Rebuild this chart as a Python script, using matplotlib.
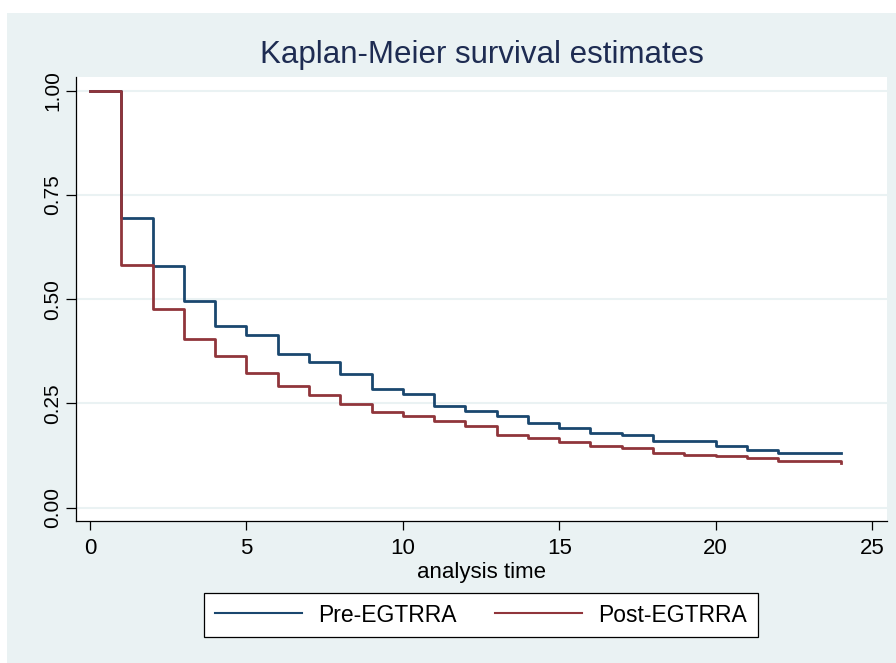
import matplotlib.pyplot as plt
from matplotlib.patches import Rectangle

# Kaplan-Meier step values, one per interval [t, t+1), last entry = value at t=24
times = list(range(0, 25))
pre_egtrra = [1.0, 0.696, 0.581, 0.496, 0.436, 0.413, 0.369, 0.350, 0.320, 0.284,
              0.272, 0.243, 0.232, 0.220, 0.204, 0.190, 0.180, 0.174, 0.160, 0.160,
              0.148, 0.139, 0.131, 0.131, 0.131]
post_egtrra = [1.0, 0.583, 0.476, 0.405, 0.364, 0.324, 0.292, 0.271, 0.249, 0.230,
               0.220, 0.208, 0.195, 0.174, 0.168, 0.157, 0.148, 0.143, 0.131, 0.126,
               0.124, 0.119, 0.112, 0.112, 0.108]

x_ticks = [0, 5, 10, 15, 20, 25]
y_ticks = [0.0, 0.25, 0.5, 0.75, 1.0]
y_labels = ["0.00", "0.25", "0.50", "0.75", "1.00"]

BG = "#eaf2f3"
BLUE = "#1a476f"
RED = "#90353b"
TITLE = "#1e2c52"

plt.rcParams["font.family"] = ["Liberation Sans", "DejaVu Sans"]

fig = plt.figure(figsize=(8.96, 6.63), dpi=100)
fig.patch.set_facecolor("white")
fig.patches.append(Rectangle((7 / 896, 0), 1, 650 / 663, transform=fig.transFigure,
                             facecolor=BG, edgecolor="none", zorder=-5))

ax = fig.add_axes([76 / 896, 1 - 521 / 663, 811 / 896, 444 / 663])
ax.set_zorder(2)
ax.set_facecolor("white")

ax.step(times, pre_egtrra, where="post", color=BLUE, lw=2, label="Pre-EGTRRA", zorder=3)
ax.step(times, post_egtrra, where="post", color=RED, lw=2, label="Post-EGTRRA", zorder=3)

ax.set_xlim(-0.45, 25.48)
ax.set_ylim(-0.0324, 1.0336)
ax.set_xticks(x_ticks)
ax.set_yticks(y_ticks)
ax.set_yticklabels(y_labels, rotation=90, va="center")
ax.tick_params(axis="x", labelsize=16, length=6.5, width=0.9, color="black", pad=6)
ax.tick_params(axis="y", labelsize=15, length=7, width=0.9, color="black", pad=3)
ax.grid(axis="y", color=BG, lw=1.5, zorder=1)
ax.grid(axis="x", visible=False)

for side in ["top", "right"]:
    ax.spines[side].set_visible(False)
for side in ["left", "bottom"]:
    ax.spines[side].set_linewidth(0.9)

ax.set_xlabel("analysis time", fontsize=16, labelpad=2)
fig.text(482 / 896, 1 - 55 / 663, "Kaplan-Meier survival estimates", fontsize=22.5,
         color=TITLE, ha="center", va="center", zorder=5)

leg = fig.legend(loc="center", bbox_to_anchor=(481 / 896, 1 - 615 / 663), ncol=2,
                 fontsize=16.5, frameon=True, fancybox=False, framealpha=1,
                 handlelength=3.8, columnspacing=1.7, borderpad=0.45, handletextpad=0.7)
leg.set_zorder(5)
leg.get_frame().set_edgecolor("black")
leg.get_frame().set_linewidth(0.9)
leg.get_frame().set_facecolor("white")
for line in leg.get_lines():
    line.set_linewidth(1.5)

fig.savefig("out.png", dpi=100)
